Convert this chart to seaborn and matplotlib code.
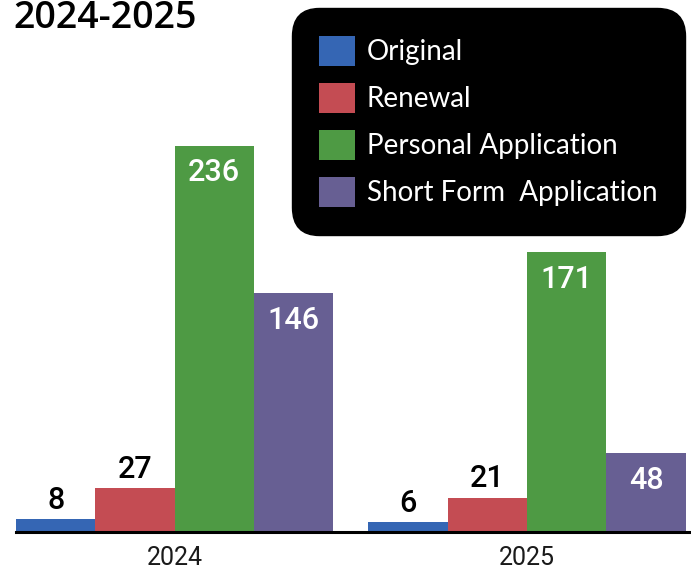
import matplotlib
matplotlib.use("Agg")
import matplotlib.pyplot as plt
import seaborn as sns
import pandas as pd

# Data
years = ["2024", "2025"]
categories = ["Original", "Renewal", "Personal Application", "Short Form  Application"]
original = [8, 6]
renewal = [27, 21]
personal = [236, 171]
short_form = [146, 48]
colors = ["#3566b4", "#c44c53", "#4e9a44", "#675f93"]

rows = []
for cat, vals in zip(categories, [original, renewal, personal, short_form]):
    for yr, v in zip(years, vals):
        rows.append({"Year": yr, "Type": cat, "Count": v})
df = pd.DataFrame(rows)

sns.set_style("white")
fig = plt.figure(figsize=(6.91, 5.74), dpi=100)
ax = fig.add_axes([16 / 691, 42 / 574, 675 / 691, 532 / 574])

sns.barplot(data=df, x="Year", y="Count", hue="Type", hue_order=categories,
            palette=colors, width=0.9, saturation=1, linewidth=0, ax=ax, legend=True)

ax.set_xlim(-0.45, 1.465)
ax.set_ylim(0, 325)
ax.set_xlabel("")
ax.set_ylabel("")
ax.set_yticks([])
for s in ["top", "right", "left"]:
    ax.spines[s].set_visible(False)
ax.spines["bottom"].set_linewidth(2.2)
ax.spines["bottom"].set_color("black")
ax.tick_params(axis="x", length=0, pad=10, labelsize=18, labelcolor="#1a1a1a")
for t in ax.get_xticklabels():
    t.set_family(["Roboto", "DejaVu Sans"])

# value labels
num_font = ["Roboto", "DejaVu Sans"]
for cont in ax.containers:
    for bar in cont:
        h = bar.get_height()
        xc = bar.get_x() + bar.get_width() / 2
        if h > 40:
            ax.annotate(f"{h:.0f}", (xc, h), xytext=(0, -9), textcoords="offset points",
                        ha="center", va="top", color="white", fontsize=22,
                        fontweight="medium", family=num_font)
        else:
            ax.annotate(f"{h:.0f}", (xc, h), xytext=(0, 3), textcoords="offset points",
                        ha="center", va="bottom", color="black", fontsize=22,
                        fontweight="medium", family=num_font)

handles, labels = ax.get_legend_handles_labels()
ax.get_legend().remove()
leg = ax.legend(handles, labels, loc="upper right", bbox_to_anchor=(685 / 691, 566 / 574),
                bbox_transform=fig.transFigure, frameon=True, facecolor="black",
                edgecolor="black", framealpha=1, fancybox=True,
                prop={"family": "Lato", "size": 20},
                handlelength=1.3, handleheight=1.3, handletextpad=0.4,
                labelspacing=0.6, borderpad=1.0, borderaxespad=0)
leg.get_frame().set_boxstyle("round", pad=0, rounding_size=1.0)
for t in leg.get_texts():
    t.set_color("white")
for p in leg.get_patches():
    p.set_linewidth(0)

fig.text(13 / 691, 546 / 574, "2024-2025", fontsize=27, fontweight="semibold",
         color="black", family=["Open Sans", "DejaVu Sans"], ha="left", va="baseline")

fig.savefig("out.png", dpi=100)
